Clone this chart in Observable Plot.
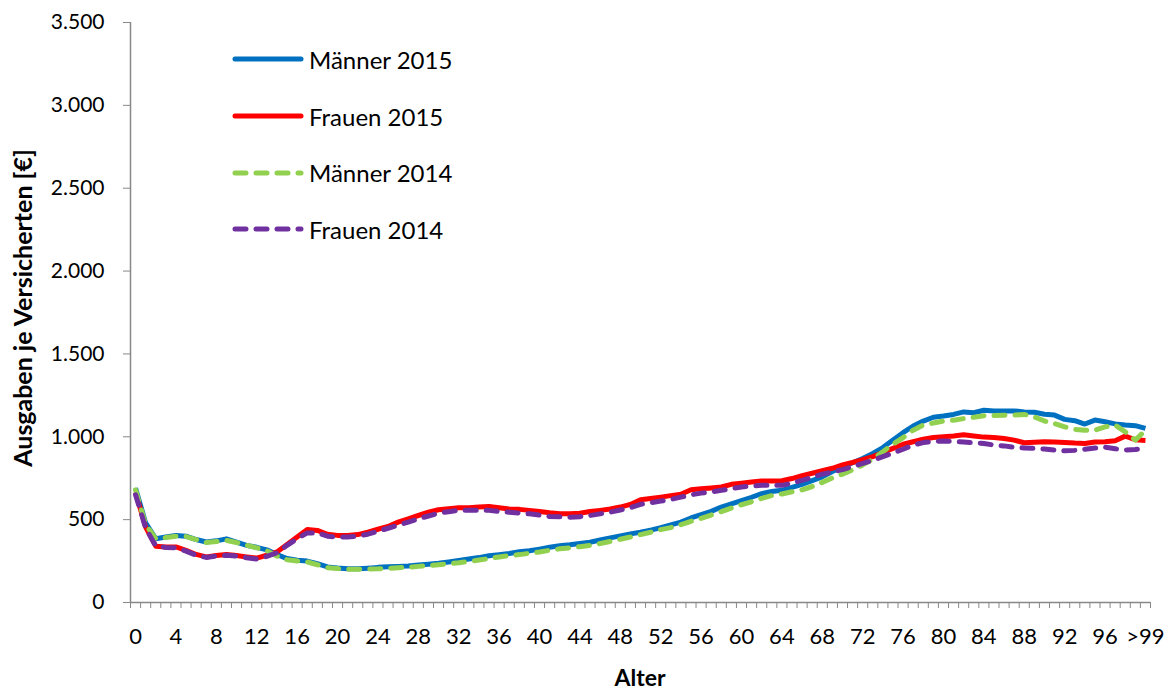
<!DOCTYPE html>
<html><head><meta charset="utf-8">
<script src="https://cdn.jsdelivr.net/npm/d3@7"></script>
<script src="https://cdn.jsdelivr.net/npm/@observablehq/plot@0.6"></script>
<style>
body{margin:0;background:#fff;}
#wrap{position:relative;width:1172px;height:689px;font-family:Lato,sans-serif;color:#000;}
#legend{position:absolute;left:232px;top:31px;}
.item{display:flex;align-items:center;height:56.7px;font-size:24px;}
.item svg{margin-right:5px;}
#ytitle{position:absolute;left:22px;top:308px;transform:translate(-50%,-50%) rotate(-90deg);white-space:nowrap;font-weight:bold;font-size:25px;}
#xtitle{position:absolute;left:640px;top:677px;transform:translate(-50%,-50%);font-weight:bold;font-size:23px;}
svg g[aria-label="y-axis tick"] path, svg g[aria-label="x-axis tick"] path{stroke:#888;}
</style></head>
<body><div id="wrap"><div id="chart"></div><div id="legend"></div><div id="ytitle">Ausgaben je Versicherten [€]</div><div id="xtitle">Alter</div></div>
<script>
const ageLabels = d3.range(100).map(String).concat([">99"]);
const labelTicks = d3.range(0, 97, 4).concat([100]);
const yTicks = [0, 500, 1000, 1500, 2000, 2500, 3000, 3500];
const seriesNames = ["Männer 2015", "Frauen 2015", "Männer 2014", "Frauen 2014"];
const seriesColors = ["#0070C0", "#FF0000", "#92D050", "#7030A0"];
const seriesDashed = [false, false, true, true];

const maenner2015 = [690,480,385,395,405,400,380,365,372,384,365,345,333,318,290,265,255,250,235,215,208,203,203,207,212,
215,218,220,226,231,237,245,253,262,271,282,289,296,306,312,322,333,342,348,356,364,377,390,402,414,
424,437,451,468,485,510,530,550,576,595,615,635,657,670,677,695,713,735,758,790,818,843,869,900,935,980,1025,1065,1095,1118,1125,1135,1150,1145,1160,1155,1155,1156,1150,1148,1136,1131,1105,1097,1077,1101,1091,1078,1071,1067,1051];
const frauen2015 = [665,455,340,335,335,315,290,275,283,290,283,275,268,285,305,350,395,440,435,412,405,405,410,425,442,
459,485,505,525,545,560,566,572,572,576,580,572,564,562,556,549,541,535,535,539,549,556,564,576,592,
620,628,636,645,653,681,686,691,697,713,720,727,733,733,735,748,765,780,795,810,830,845,862,880,905,930,955,970,985,996,1000,1005,1012,1005,998,996,990,980,964,967,970,968,966,962,960,968,970,976,1004,982,978];
const maenner2014 = [680,470,385,392,400,398,380,362,368,375,362,345,330,312,280,258,250,245,228,210,205,200,200,202,203,
206,210,213,218,223,228,234,240,248,256,265,275,283,289,297,305,315,324,330,337,345,356,368,382,395,
410,424,440,452,470,490,508,528,548,570,590,608,628,645,655,668,680,700,725,752,775,800,830,865,910,955,995,1040,1071,1083,1095,1100,1110,1118,1127,1128,1130,1131,1135,1120,1095,1080,1060,1045,1040,1040,1060,1071,1030,980,1040];
const frauen2014 = [650,450,340,332,330,310,285,272,280,285,280,270,262,278,300,345,385,420,420,400,395,395,400,412,430,
448,466,485,505,522,539,548,556,556,556,556,550,545,540,535,527,519,517,515,518,525,535,545,558,572,
592,602,612,622,636,650,660,667,677,687,697,703,707,707,707,720,737,755,774,788,802,820,839,858,880,902,925,950,965,972,974,972,968,964,960,950,945,936,933,930,926,920,915,918,925,932,937,928,920,923,933];

const seriesValues = [maenner2015, frauen2015, maenner2014, frauen2014];
const rows = seriesValues.flatMap((vals, s) => vals.map((v, i) => ({i, v, s})));
const fmt = d => d3.format(",")(d).replace(/,/g, ".");
const boundaries = d3.range(-0.5, 101, 1);

const lineMarks = seriesValues.map((vals, s) => Plot.line(rows.filter(r => r.s === s), {
  x: "i", y: "v", stroke: seriesColors[s], strokeWidth: 5,
  strokeLinejoin: "round", strokeLinecap: seriesDashed[s] ? "round" : "butt",
  strokeDasharray: seriesDashed[s] ? "11,10" : null
}));

const chart = Plot.plot({
  width: 1172, height: 689,
  marginLeft: 130, marginRight: 22, marginTop: 22, marginBottom: 87,
  x: {domain: [-0.5, 100.5], axis: null},
  y: {domain: [0, 3500], axis: null},
  style: {fontFamily: "Lato, sans-serif", background: "white", color: "black"},
  marks: [
    Plot.axisY({ticks: yTicks, tickSize: 7, tickPadding: 19, tickFormat: fmt, fontSize: 21, label: null}),
    Plot.axisX({ticks: boundaries, tickSize: 6, tickFormat: () => "", label: null}),
    Plot.axisX({ticks: labelTicks, tickSize: 0, tickPadding: 26, tickFormat: i => ageLabels[i], fontSize: 22, label: null}),
    Plot.ruleX([-0.5], {stroke: "#888", strokeWidth: 1.5}),
    Plot.ruleY([0], {stroke: "#888", strokeWidth: 1.5}),
    ...lineMarks
  ]
});
document.getElementById("chart").appendChild(chart);

const legend = document.getElementById("legend");
seriesNames.forEach((name, s) => {
  const item = document.createElement("div");
  item.className = "item";
  const dash = seriesDashed[s] ? 'stroke-dasharray="11,10" stroke-linecap="round"' : 'stroke-linecap="round"';
  item.innerHTML = `<svg width="72" height="10"><line x1="3" y1="5" x2="69" y2="5" stroke="${seriesColors[s]}" stroke-width="5" ${dash}/></svg><span>${name}</span>`;
  legend.appendChild(item);
});
</script>
</body></html>
